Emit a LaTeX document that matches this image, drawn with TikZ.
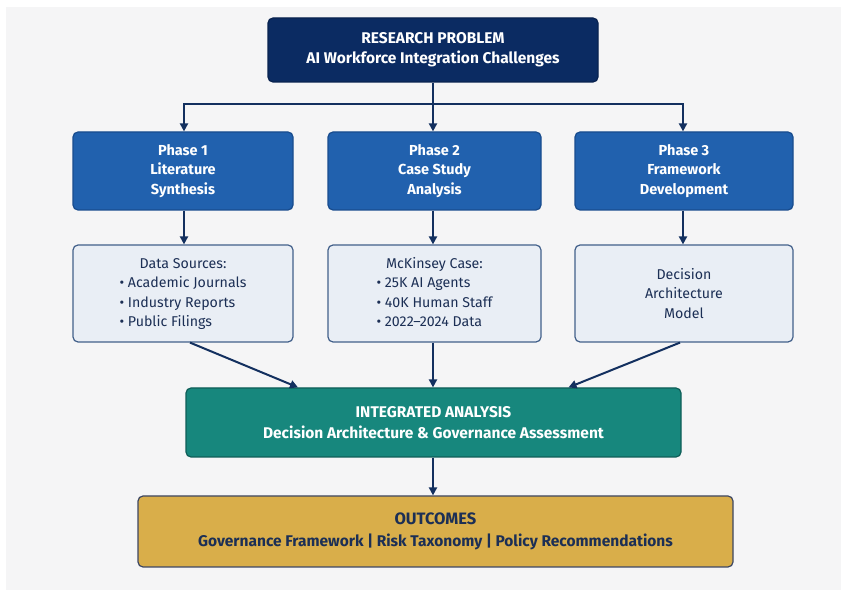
\documentclass[tikz,border=0pt]{standalone}
\usepackage{fontspec}
\setmainfont{Fira Sans}
\usetikzlibrary{arrows.meta}
\definecolor{navy}{HTML}{0B2B62}
\definecolor{navyb}{HTML}{08224F}
\definecolor{phase}{HTML}{2161AE}
\definecolor{phaseb}{HTML}{184C8E}
\definecolor{light}{HTML}{E9EEF5}
\definecolor{lightb}{HTML}{42608A}
\definecolor{teal}{HTML}{17877D}
\definecolor{tealb}{HTML}{0E5E58}
\definecolor{gold}{HTML}{D9AE4A}
\definecolor{goldb}{HTML}{3D4763}
\definecolor{txt}{HTML}{1C2F55}
\definecolor{arr}{HTML}{13305F}
\definecolor{panel}{HTML}{F5F5F6}
\begin{document}
\begin{tikzpicture}[x=1pt,y=-1pt,
  box/.style={rounded corners=5pt, line width=1.2pt, align=center, inner sep=0pt},
  topbox/.style={box, fill=navy, draw=navyb, text=white, font=\fontsize{15.5}{20}\selectfont\bfseries},
  phasebox/.style={box, fill=phase, draw=phaseb, text=white, minimum height=78pt, font=\fontsize{14.5}{19.5}\selectfont\bfseries},
  databox/.style={box, fill=light, draw=lightb, text=txt, minimum height=97pt, font=\fontsize{14.2}{19.5}\selectfont},
  iabox/.style={box, fill=teal, draw=tealb, text=white, font=\fontsize{15.5}{20.5}\selectfont\bfseries},
  outbox/.style={box, fill=gold, draw=goldb, text=txt, font=\fontsize{15.5}{22}\selectfont\bfseries},
  arrow/.style={draw=arr, line width=2pt, -{Triangle[length=8pt,width=8pt]}}
]
\fill[white] (0,0) rectangle (847,593);
\fill[panel] (6,7) rectangle (841,590);
\useasboundingbox (0,0) rectangle (847,593);
\renewcommand{\arraystretch}{1}

\node[topbox, minimum width=330pt, minimum height=64pt] (rp) at (433,50)
  {RESEARCH PROBLEM\\AI Workforce Integration Challenges};

\node[phasebox, minimum width=220pt] (p1) at (183,171) {Phase 1\\Literature\\Synthesis};
\node[phasebox, minimum width=213pt] (p2) at (434.5,171) {Phase 2\\Case Study\\Analysis};
\node[phasebox, minimum width=218pt] (p3) at (684,171) {Phase 3\\Framework\\Development};

\node[databox, minimum width=220pt] (d1) at (183,293.5)
  {\begin{tabular}{@{}l@{}}\multicolumn{1}{@{}c@{}}{Data Sources:}\\• Academic Journals\\• Industry Reports\\• Public Filings\end{tabular}};
\node[databox, minimum width=213pt] (d2) at (434.5,293.5)
  {\begin{tabular}{@{}l@{}}\multicolumn{1}{@{}c@{}}{McKinsey Case:}\\• 25K AI Agents\\• 40K Human Staff\\• 2022–2024 Data\end{tabular}};
\node[databox, minimum width=218pt] (d3) at (684,293.5)
  {Decision\\Architecture\\Model};

\node[iabox, minimum width=495pt, minimum height=69pt] (ia) at (433.5,422.5)
  {INTEGRATED ANALYSIS\\Decision Architecture \& Governance Assessment};

\node[outbox, minimum width=595pt, minimum height=71pt] (out) at (435.5,531.5)
  {\fontsize{16.5}{22}\selectfont OUTCOMES\\\fontsize{15.5}{22}\selectfont Governance Framework | Risk Taxonomy | Policy Recommendations};

% connectors
\coordinate (split) at ([yshift=-21pt]rp.south);
\draw[arrow] (rp.south) -- (rp.south |- p2.north);
\draw[arrow] (split) -| ([xshift=1pt]p1.north);
\draw[arrow] (split) -| ([xshift=-1pt]p3.north);

\draw[arrow] ([xshift=1pt]p1.south) -- ([xshift=1pt]d1.north);
\draw[arrow] (p2.south -| rp.south) -- (d2.north -| rp.south);
\draw[arrow] ([xshift=-1pt]p3.south) -- ([xshift=-1pt]d3.north);

\draw[arrow] ([xshift=7pt]d1.south) -- ([xshift=-135.5pt]ia.north);
\draw[arrow] (d2.south -| rp.south) -- (ia.north -| rp.south);
\draw[arrow] ([xshift=-4pt]d3.south) -- ([xshift=135pt]ia.north);

\draw[arrow] (ia.south -| rp.south) -- (out.north -| rp.south);
\end{tikzpicture}
\end{document}
